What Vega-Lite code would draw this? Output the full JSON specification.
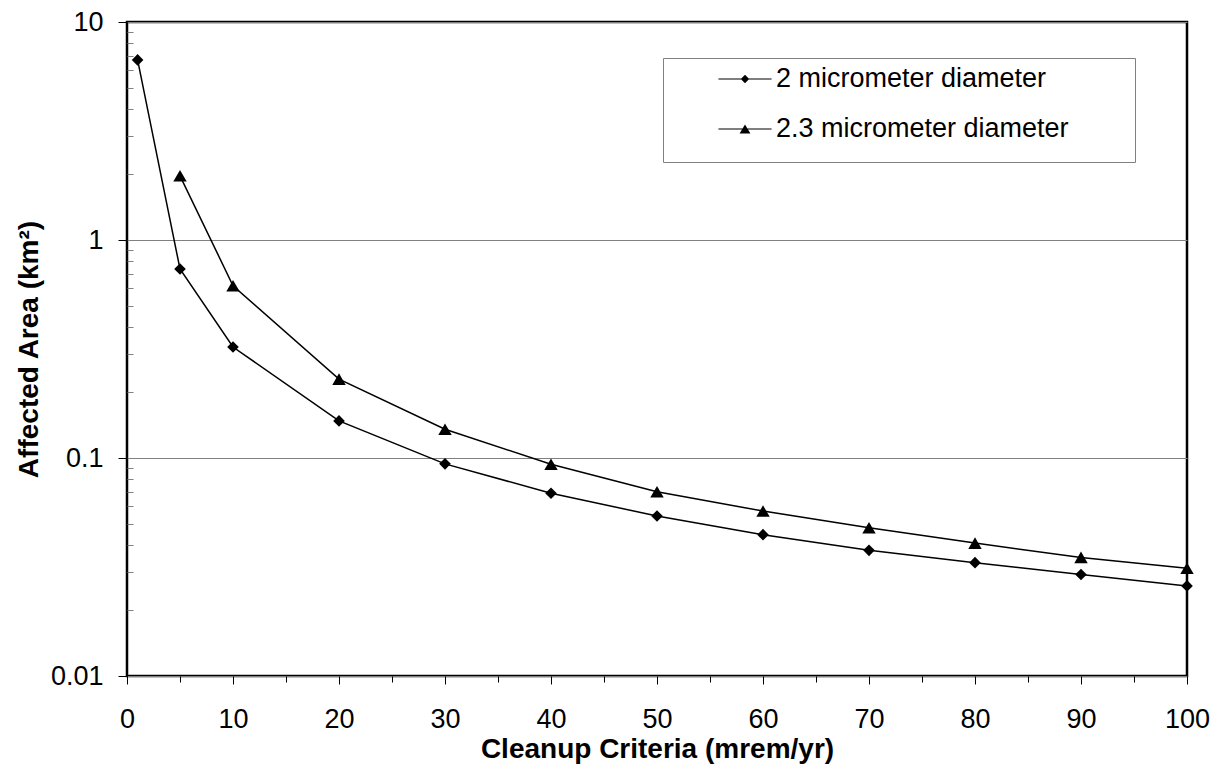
{
  "$schema": "https://vega.github.io/schema/vega-lite/v6.json",
  "width": 1060,
  "height": 654,
  "autosize": {"type": "none"},
  "padding": {"left": 127, "top": 22, "right": 29, "bottom": 106},
  "background": "white",
  "config": {
    "view": {"stroke": "black", "strokeWidth": 2.5},
    "font": "Liberation Sans",
    "axis": {"labelFont": "Liberation Sans", "titleFont": "Liberation Sans", "labelColor": "black", "titleColor": "black"}
  },
  "data": {
    "values": [
      {"x": 1, "y": 6.7, "series": "2 micrometer diameter"},
      {"x": 5, "y": 0.736, "series": "2 micrometer diameter"},
      {"x": 10, "y": 0.323, "series": "2 micrometer diameter"},
      {"x": 20, "y": 0.148, "series": "2 micrometer diameter"},
      {"x": 30, "y": 0.094, "series": "2 micrometer diameter"},
      {"x": 40, "y": 0.0689, "series": "2 micrometer diameter"},
      {"x": 50, "y": 0.0542, "series": "2 micrometer diameter"},
      {"x": 60, "y": 0.0445, "series": "2 micrometer diameter"},
      {"x": 70, "y": 0.0377, "series": "2 micrometer diameter"},
      {"x": 80, "y": 0.0331, "series": "2 micrometer diameter"},
      {"x": 90, "y": 0.0292, "series": "2 micrometer diameter"},
      {"x": 100, "y": 0.0259, "series": "2 micrometer diameter"},
      {"x": 5, "y": 1.97, "series": "2.3 micrometer diameter"},
      {"x": 10, "y": 0.617, "series": "2.3 micrometer diameter"},
      {"x": 20, "y": 0.23, "series": "2.3 micrometer diameter"},
      {"x": 30, "y": 0.1355, "series": "2.3 micrometer diameter"},
      {"x": 40, "y": 0.0936, "series": "2.3 micrometer diameter"},
      {"x": 50, "y": 0.07, "series": "2.3 micrometer diameter"},
      {"x": 60, "y": 0.0571, "series": "2.3 micrometer diameter"},
      {"x": 70, "y": 0.0479, "series": "2.3 micrometer diameter"},
      {"x": 80, "y": 0.0407, "series": "2.3 micrometer diameter"},
      {"x": 90, "y": 0.035, "series": "2.3 micrometer diameter"},
      {"x": 100, "y": 0.0312, "series": "2.3 micrometer diameter"}
    ]
  },
  "layer": [
    {
      "mark": {"type": "line", "color": "black", "strokeWidth": 1.5},
      "encoding": {
        "x": {
          "field": "x", "type": "quantitative",
          "scale": {"domain": [0, 100], "nice": false, "zero": false},
          "axis": {
            "values": [0, 10, 20, 30, 40, 50, 60, 70, 80, 90, 100],
            "title": "Cleanup Criteria (mrem/yr)",
            "titleFontSize": 28, "titleFontWeight": "bold", "titlePadding": 3,
            "labelFontSize": 27, "labelPadding": 22, "tickSize": 8, "tickColor": "black",
            "domain": false, "grid": false, "labelFlush": false
          }
        },
        "y": {
          "field": "y", "type": "quantitative",
          "scale": {"type": "log", "domain": [0.01, 10], "nice": false},
          "axis": {
            "values": [0.01, 0.1, 1, 10],
            "format": "~g",
            "title": "Affected Area (km²)",
            "titleFontSize": 28, "titleFontWeight": "bold", "titlePadding": 7,
            "labelFontSize": 27, "labelPadding": 15, "tickSize": 9, "tickColor": "black",
            "domain": false, "grid": true, "gridColor": "#808080", "gridWidth": 1,
            "labelFlush": false
          }
        },
        "detail": {"field": "series", "type": "nominal"}
      }
    },
    {
      "mark": {"type": "point", "filled": true, "color": "black", "opacity": 1},
      "encoding": {
        "x": {"field": "x", "type": "quantitative", "axis": null},
        "y": {"field": "y", "type": "quantitative", "axis": null},
        "shape": {
          "field": "series", "type": "nominal",
          "scale": {"domain": ["2 micrometer diameter", "2.3 micrometer diameter"], "range": ["diamond", "triangle-up"]},
          "legend": null
        },
        "size": {
          "field": "series", "type": "nominal",
          "scale": {"domain": ["2 micrometer diameter", "2.3 micrometer diameter"], "range": [135, 180]},
          "legend": null
        }
      }
    },
    {
      "mark": {"type": "point", "filled": true, "color": "black", "opacity": 0},
      "encoding": {
        "x": {
          "field": "x", "type": "quantitative",
          "axis": {
            "orient": "bottom",
            "values": [5, 15, 25, 35, 45, 55, 65, 75, 85, 95],
            "labels": false, "title": null, "tickSize": 6, "tickColor": "black",
            "domain": false, "grid": false
          }
        },
        "y": {
          "field": "y", "type": "quantitative",
          "axis": {
            "orient": "left",
            "values": [0.02, 0.03, 0.04, 0.05, 0.06, 0.07, 0.08, 0.09, 0.2, 0.3, 0.4, 0.5, 0.6, 0.7, 0.8, 0.9, 2, 3, 4, 5, 6, 7, 8, 9],
            "labels": false, "title": null, "tickSize": -6, "tickColor": "#808080",
            "domain": false, "grid": false
          }
        },
        "shape": {
          "field": "series", "type": "nominal",
          "scale": {
            "domain": ["2 micrometer diameter", "2.3 micrometer diameter"],
            "range": [
              "M-1.77,-0.04L1.77,-0.04L1.77,0.04L-1.77,0.04ZM-0.28,0L0,-0.28L0.28,0L0,0.28Z",
              "M-1.77,-0.04L1.77,-0.04L1.77,0.04L-1.77,0.04ZM0,-0.3L0.36,0.3L-0.36,0.3Z"
            ]
          },
          "legend": {
            "orient": "none", "legendX": 536, "legendY": 36,
            "title": "\u00a0", "titleOrient": "bottom", "titleFontSize": 8, "titlePadding": 6,
            "padding": 6,
            "strokeColor": "#808080", "fillColor": "white",
            "symbolSize": 900, "symbolFillColor": "black", "symbolStrokeColor": "transparent",
            "symbolStrokeWidth": 0, "symbolOpacity": 1,
            "symbolOffset": 61,
            "labelFontSize": 27, "labelFont": "Liberation Sans", "labelColor": "black",
            "labelOffset": 16, "rowPadding": 22, "labelLimit": 1000,
            "labelExpr": "datum.label + '\u00a0\u00a0\u00a0\u00a0\u00a0\u00a0\u00a0\u00a0\u200b'",
            "encode": {
              "symbols": {
                "update": {
                  "fill": {"value": "black"},
                  "fillOpacity": {"value": 1},
                  "opacity": {"value": 1}
                }
              }
            }
          }
        }
      }
    }
  ],
  "resolve": {
    "axis": {"x": "independent", "y": "independent"},
    "scale": {"shape": "independent", "size": "independent"},
    "legend": {"shape": "independent"}
  }
}
